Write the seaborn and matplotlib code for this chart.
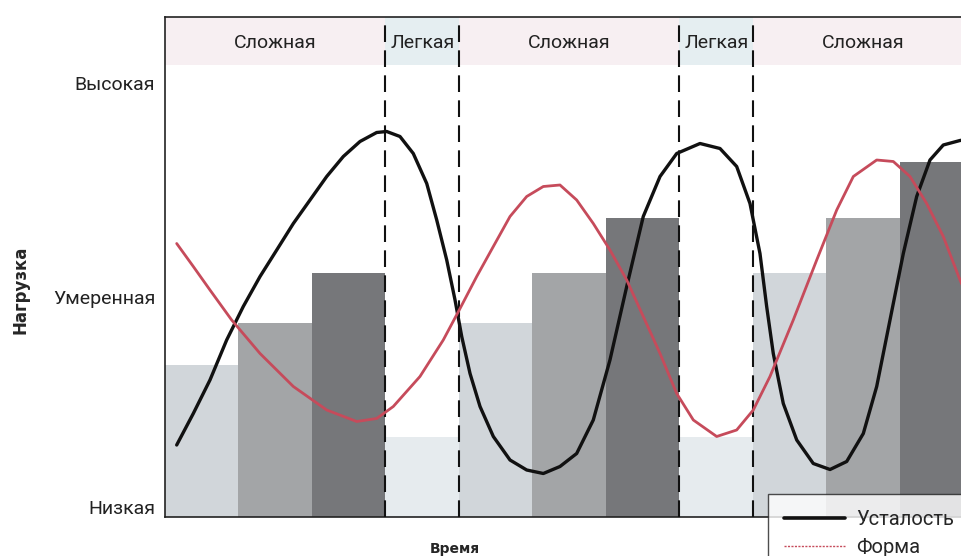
import numpy as np
import pandas as pd
import matplotlib.pyplot as plt
import seaborn as sns
from matplotlib.lines import Line2D

# training periods (one bar per period) and their load level
period = list(range(11))
load = [30.4, 38.8, 48.8, 16.0, 38.8, 48.8, 59.8, 16.0, 48.8, 59.8, 71.0]
shade = ['s1', 's2', 's3', 'easy', 's1', 's2', 's3', 'easy', 's1', 's2', 's3']

# phases shown in the header strip
phase_names = ['Сложная', 'Легкая', 'Сложная', 'Легкая', 'Сложная']
phase_lengths = [3, 1, 3, 1, 3]

# fatigue curve
fatigue_x = [-0.341, -0.115, 0.112, 0.339, 0.565, 0.793, 1.020, 1.246, 1.473, 1.700,
             1.926, 2.153, 2.380, 2.516, 2.697, 2.878, 3.061, 3.197, 3.333, 3.446,
             3.537, 3.650, 3.786, 3.967, 4.194, 4.421, 4.647, 4.874, 5.101, 5.327,
             5.554, 5.782, 6.007, 6.235, 6.462, 6.779, 7.051, 7.278, 7.459, 7.595,
             7.686, 7.776, 7.912, 8.095, 8.320, 8.548, 8.775, 9.001, 9.183, 9.364,
             9.545, 9.727, 9.908, 10.089, 10.316, 10.45]
fatigue_y = [14.4, 20.7, 27.4, 35.4, 42.1, 48.1, 53.4, 58.7, 63.4, 68.1,
             72.1, 75.1, 76.9, 77.1, 76.1, 72.7, 66.7, 59.4, 51.4, 43.4,
             36.1, 28.7, 22.1, 16.1, 11.4, 9.4, 8.7, 10.1, 12.7, 19.4,
             31.4, 46.1, 60.1, 68.1, 72.7, 74.7, 73.7, 70.1, 62.7, 52.7,
             42.1, 32.7, 22.7, 15.4, 10.7, 9.5, 11.1, 16.7, 26.1, 39.4,
             52.7, 64.1, 71.4, 74.4, 75.3, 75.6]

# form curve
form_x = [-0.341, -0.115, 0.112, 0.407, 0.793, 1.246, 1.700, 2.108, 2.380, 2.606,
          2.969, 3.286, 3.514, 3.741, 3.967, 4.194, 4.421, 4.647, 4.874, 5.101,
          5.327, 5.554, 5.782, 6.007, 6.235, 6.462, 6.688, 7.006, 7.278, 7.504,
          7.731, 8.048, 8.367, 8.639, 8.865, 9.183, 9.409, 9.636, 9.863, 10.089,
          10.316, 10.45]
form_y = [54.7, 50.1, 45.4, 39.4, 32.7, 26.1, 21.4, 19.1, 19.7, 22.1,
          28.1, 35.4, 41.7, 48.1, 54.1, 60.1, 64.1, 66.1, 66.4, 63.4,
          58.7, 53.4, 47.4, 40.1, 32.7, 24.7, 19.4, 16.1, 17.4, 21.4,
          28.1, 39.4, 51.4, 61.4, 68.1, 71.4, 71.1, 68.1, 62.7, 56.1,
          47.4, 43.0]

level_ticks = [2, 44, 86.8]
level_labels = ['Низкая', 'Умеренная', 'Высокая']

bars = pd.DataFrame({'period': period, 'load': load, 'shade': shade})
palette = {'s1': '#d1d6da', 's2': '#a3a5a7', 's3': '#76777a', 'easy': '#e6ebee'}
band_colors = {'Сложная': '#f7eff2', 'Легкая': '#e5eef1'}

sns.set_theme(style='white')
plt.rcParams['font.family'] = ['Roboto', 'DejaVu Sans']

fig = plt.figure(figsize=(9.61, 5.56), dpi=100)
ax = fig.add_axes([165 / 961, 39 / 556, 1 - 165 / 961, 500 / 556])

sns.barplot(data=bars, x='period', y='load', hue='shade', palette=palette,
            native_scale=True, width=1.0, dodge=False, legend=False,
            saturation=1, linewidth=0, edgecolor='none', ax=ax)

# header strip with phase names and dashed borders
edges = np.concatenate([[0], np.cumsum(phase_lengths)]) - 0.5
for name, a, b in zip(phase_names, edges[:-1], edges[1:]):
    ax.fill_between([a, b], 90.4, 100, color=band_colors[name], lw=0, zorder=0.5)
    ax.text((a + b) / 2, 94.8, name, ha='center', va='center', fontsize=14, color='#222222')
for e in edges[1:-1]:
    ax.vlines(e, 0, 100, colors='#111111', linestyles=(0, (8, 4)), lw=1.5, zorder=3)

sns.lineplot(x=fatigue_x, y=fatigue_y, color='#111111', lw=2.4, ax=ax, zorder=4,
             solid_joinstyle='round', solid_capstyle='round')
sns.lineplot(x=form_x, y=form_y, color='#c64b5b', lw=2.0, ax=ax, zorder=5,
             solid_joinstyle='round', solid_capstyle='round')

ax.set_xlim(-0.5, 10.33)
ax.set_ylim(0, 100)
ax.set_xticks([])
ax.set_yticks(level_ticks)
ax.set_yticklabels(level_labels, fontsize=14, color='#222222')
ax.tick_params(axis='y', length=0, pad=7)

ax.set_ylabel('Нагрузка', fontsize=12, fontweight='bold', family='DejaVu Sans')
ax.yaxis.set_label_coords(-0.17, 0.454)
ax.set_xlabel('Время', fontsize=10, fontweight='bold', family='DejaVu Sans', va='center')
ax.xaxis.set_label_coords(0.364, -0.064)

for side in ['left', 'bottom', 'top']:
    ax.spines[side].set_color('#222222')
    ax.spines[side].set_linewidth(1.2)
ax.spines['right'].set_visible(False)

handles = [Line2D([], [], color='#111111', lw=2.6),
           Line2D([], [], color='#c64b5b', lw=1.0, ls=(0, (1.5, 1)))]
leg = fig.legend(handles, ['Усталость', 'Форма'], loc='upper left',
                 bbox_to_anchor=(768 / 961, 1 - 494 / 556), fontsize=14.5,
                 frameon=True, fancybox=False, handlelength=3.0, handletextpad=0.6,
                 borderpad=0.8, labelspacing=0.42, borderaxespad=0)
leg.get_frame().set_edgecolor('#222222')
leg.get_frame().set_linewidth(1.0)

fig.savefig('out.png', dpi=100)
